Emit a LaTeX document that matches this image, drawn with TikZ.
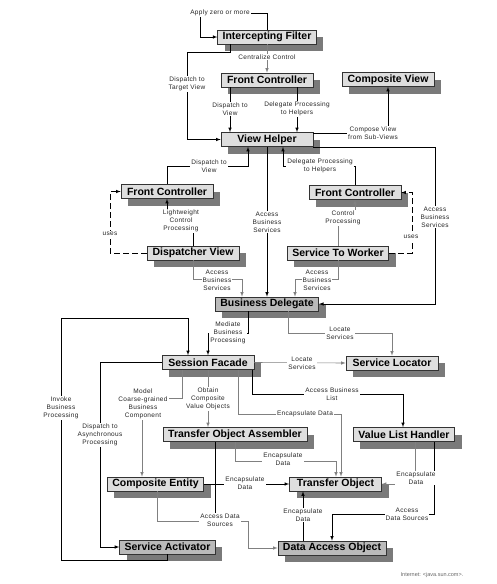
\documentclass[tikz,border=0pt]{standalone}
\usepackage{fontspec}
\setmainfont{Liberation Sans}
\newfontfamily\lblfont[LetterSpace=5]{Liberation Sans}
\usetikzlibrary{shadows}
\begin{document}
\begin{tikzpicture}[x=1pt,y=-1pt,>=latex,line width=0.6pt,
  box/.style={draw=black!80,fill=black!13,font=\bfseries\fontsize{10.5}{12}\selectfont,
    minimum width=92pt,minimum height=14pt,inner xsep=5pt,inner ysep=0pt,
    drop shadow={shadow xshift=7pt,shadow yshift=-7pt,fill=black!52,opacity=1}},
  dbox/.style={box,fill=black!27},
  lbl/.style={fill=white,inner sep=1pt,align=center,text=black!85,font=\lblfont\fontsize{6.5}{8}\selectfont},
  gline/.style={draw=black!50}]
\useasboundingbox (0,0) rectangle (497,584);
\node[box] (if) at (267,37) {Intercepting Filter};
\node[box] (fc) at (267,80) {Front Controller};
\node[box] (cv) at (388,79.5) {Composite View};
\node[box] (vh) at (267,139.5) {View Helper};
\node[box] (fcl) at (167,191.5) {Front Controller};
\node[box] (fcr) at (355,192.5) {Front Controller};
\node[box] (dv) at (193,253) {Dispatcher View};
\node[box] (stw) at (338,253) {Service To Worker};
\node[dbox] (bd) at (267,304) {Business Delegate};
\node[box] (sl) at (392,363) {Service Locator};
\node[box] (sf) at (208,362.5) {Session Facade};
\node[box] (toa) at (235,434.5) {Transfer Object Assembler};
\node[box] (vlh) at (404,434.5) {Value List Handler};
\node[box] (ce) at (155.5,484) {Composite Entity};
\node[box] (to) at (335.5,484) {Transfer Object};
\node[dbox] (sa) at (167.5,547) {Service Activator};
\node[dbox] (dao) at (332,548) {Data Access Object};
\draw[->] (if.north) |- (200,13) |- (if.west);
\draw[gline,->] (if.south) -- (fc.north);
\draw[->] (if.south -| 230,0) |- (187,52) |- (vh.west);
\draw[->] (fc.south -| 230,0) -- (vh.north -| 230,0);
\draw[->] (fc.south -| 297,0) -- (vh.north -| 297,0);
\draw[->] (vh.east |- 0,133) -| (cv.south);
\draw[->] (vh.south east) -| (435,304) -- (bd.east);
\draw[->] (fcl.north) |- (248,166) -- (vh.south -| 248,0);
\draw[->] (fcr.north) |- (283,166) -- (vh.south -| 283,0);
\draw[->] (vh.south) -- (bd.north);
\draw[->] (dv.north) |- (167,222) -- (fcl.south);
\draw[dashed,dash pattern=on 6pt off 3pt,->] (dv.west) -| (110,191.5) -- (fcl.west);
\draw[gline,->] (dv.south) |- (242,279) -- (bd.north -| 242,0);
\draw[gline,->] (stw.north) |- (355,218) -- (fcr.south);
\draw[dashed,dash pattern=on 6pt off 3pt,->] (stw.east) -| (412,192.5) -- (fcr.east);
\draw[gline,->] (stw.south) |- (295,279) -- (bd.north -| 295,0);
\draw[->] (bd.south -| 248,0) |- (208,333) -- (sf.north);
\draw[gline,->] (bd.south -| 288,0) |- (392,333) -- (sl.north);
\draw[->] (sa.south) |- (61,560) |- (188,318) -- (sf.north -| 188,0);
\draw[->] (sf.west) -| (100,547) -- (sa.west);
\draw[gline,->] (sf.south -| 182,0) |- (142,398) -- (ce.north -| 142,0);
\draw[gline,->] (sf.south) -- (toa.north -| 208,0);
\draw[gline,->] (sf.east) -- (sl.west);
\draw[->] (sf.south -| 252,0) |- (403,394) -- (vlh.north -| 403,0);
\draw[gline,->] (sf.south -| 238,0) |- (341,414) -- (to.north -| 341,0);
\draw[gline,->] (toa.south) |- (336,461) -- (to.north -| 336,0);
\draw[->] (ce.east) -- (to.west);
\draw[gline,->] (ce.south -| 157,0) |- (248,521) |- (dao.west);
\draw (toa.south -| 215,0) -- (215,518);
\draw[gline,->] (vlh.south -| 415,0) |- (to.east);
\draw[->] (vlh.south -| 434,0) |- (332,514) -- (dao.north);
\draw[->] (dao.north -| 303,0) -- (to.south -| 303,0);
\node[lbl] (l1) at (220,13) {Apply zero or more};
\node[lbl] (l2) at (267,57) {Centralize Control};
\node[lbl] (l3) at (187,84) {Dispatch to\\Target View};
\node[lbl] (l4) at (230,109) {Dispatch to\\View};
\node[lbl] (l5) at (297,109) {Delegate Processing\\to Helpers};
\node[lbl] (l6) at (373,133) {Compose View\\from Sub-Views};
\node[lbl] (l7) at (435,217) {Access\\Business\\Services};
\node[lbl] (l8) at (209,166) {Dispatch to\\View};
\node[lbl] (l9) at (320,166) {Delegate Processing\\to Helpers};
\node[lbl] (l10) at (267,222) {Access\\Business\\Services};
\node[lbl] (l11) at (181,221) {Lightweight\\Control\\Processing};
\node[lbl] (l12) at (110,234) {uses};
\node[lbl] (l13) at (217,280) {Access\\Business\\Services};
\node[lbl] (l14) at (343,218) {Control\\Processing};
\node[lbl] (l15) at (411,237) {uses};
\node[lbl] (l16) at (317,280) {Access\\Business\\Services};
\node[lbl] (l17) at (228,333) {Mediate\\Business\\Processing};
\node[lbl] (l18) at (340,333) {Locate\\Services};
\node[lbl] (l19) at (61,408) {Invoke\\Business\\Processing};
\node[lbl] (l20) at (100,435) {Dispatch to\\Asynchronous\\Processing};
\node[lbl] (l21) at (143,404) {Model\\Coarse-grained\\Business\\Component};
\node[lbl] (l22) at (208,399) {Obtain\\Composite\\Value Objects};
\node[lbl] (l23) at (302,363) {Locate\\Services};
\node[lbl] (l24) at (332,394) {Access Business\\List};
\node[lbl] (l25) at (305,414) {Encapsulate Data};
\node[lbl] (l26) at (283,459) {Encapsulate\\Data};
\node[lbl] (l27) at (245,483) {Encapsulate\\Data};
\node[lbl] (l28) at (220,520) {Access Data\\Sources};
\node[lbl] (l29) at (416,478) {Encapsulate\\Data};
\node[lbl] (l30) at (407,514) {Access\\Data Sources};
\node[lbl] (l31) at (303,515) {Encapsulate\\Data};
\node[text=black!60,font=\fontsize{5.5}{6}\selectfont] (src) at (432,575) {Internet: <java.sun.com>.};
\end{tikzpicture}
\end{document}
